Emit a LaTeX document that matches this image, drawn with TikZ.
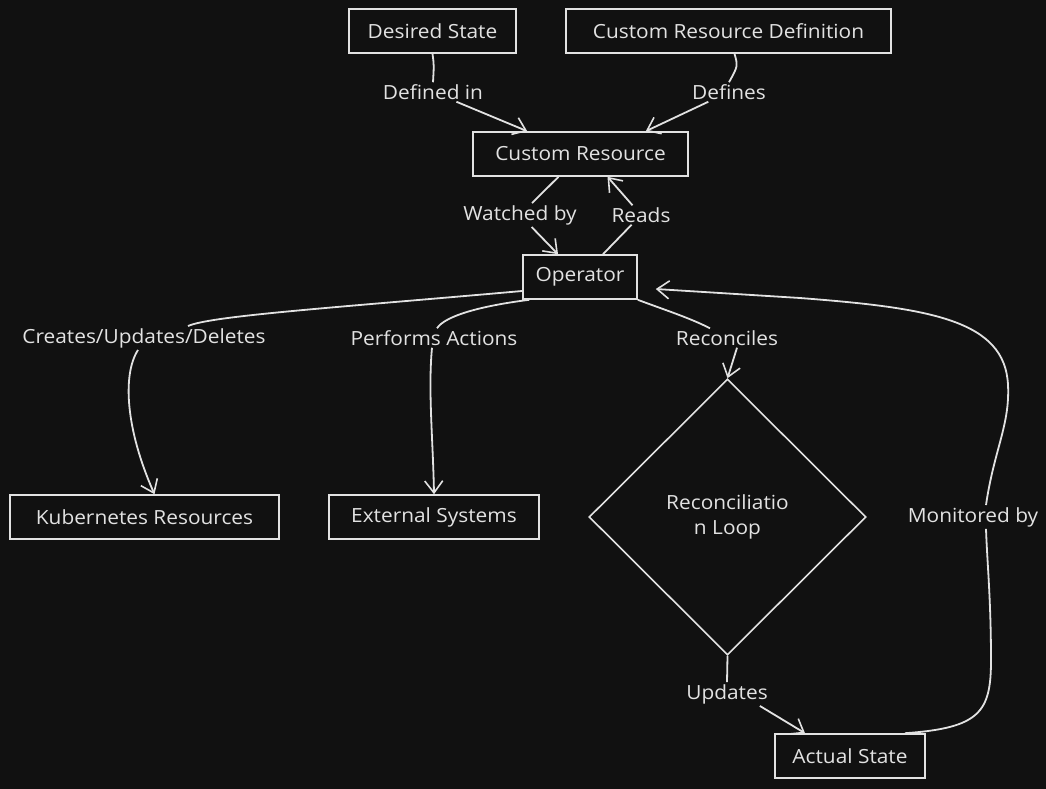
\documentclass[tikz,border=0pt]{standalone}
\usepackage{fontspec}
\setmainfont[FakeStretch=1.07]{Open Sans}
\usetikzlibrary{arrows.meta,shapes.geometric}
\definecolor{bgc}{HTML}{111111}
\definecolor{fgc}{HTML}{E2E2E2}
\begin{document}
\begin{tikzpicture}[x=1pt,y=-1pt,
  every node/.style={text=fgc,font=\fontsize{19.5}{25}\selectfont},
  box/.style={draw=fgc,line width=1.6pt,fill=bgc,minimum height=44pt,inner sep=0pt},
  lbl/.style={fill=bgc,inner sep=2pt},
  ln/.style={draw=fgc,line width=1.8pt},
  arr/.style={ln,-{Straight Barb[length=12pt,width=18pt,line width=1.6pt]}}]
\fill[bgc] (0,0) rectangle (1046,789);
\useasboundingbox (0,0) rectangle (1046,789);
% nodes
\node[box,minimum width=167pt] (ds) at (432.5,31) {Desired State};
\node[box,minimum width=325pt] (crd) at (728.5,31) {Custom Resource Definition};
\node[box,minimum width=215pt] (cr) at (580.5,154) {Custom Resource};
\node[box,minimum width=114pt] (op) at (580,277) {Operator};
\node[box,minimum width=269pt] (kr) at (144.5,517) {Kubernetes Resources};
\node[box,minimum width=210pt] (es) at (434,517) {External Systems};
\node[draw=fgc,line width=1.6pt,diamond,minimum width=277pt,minimum height=276pt,inner sep=0pt,align=center] (dm) at (727.5,517) {Reconciliatio\\n Loop};
\node[box,minimum width=150pt] (as) at (850,756) {Actual State};
% labels
\node[lbl] (l1) at (433,92) {Defined in};
\node[lbl] (l2) at (729,92) {Defines};
\node[lbl] (l3) at (520,215) {Watched by};
\node[lbl] (l4) at (641,215) {Reads};
\node[lbl] (l5) at (144,338) {Creates/Updates/Deletes};
\node[lbl] (l6) at (434,338) {Performs Actions};
\node[lbl] (l7) at (727,338) {Reconciles};
\node[lbl] (l8) at (727,694) {Updates};
\node[lbl] (l9) at (973,517) {Monitored by};
% connectors
\draw[ln] (ds.south) .. controls (434,65) .. (l1.north);
\draw[arr] (l1) -- ([xshift=55pt]cr.north west);
\draw[ln] ([xshift=6pt]crd.south) .. controls (738,66) .. (l2.north);
\draw[arr] (l2) -- ([xshift=-43pt]cr.north east);
\draw[ln] ([xshift=-22pt]cr.south) -- (l3);
\draw[arr] (l3) -- ([xshift=-22pt]op.north);
\draw[ln] ([xshift=23pt]op.north) -- (l4);
\draw[arr] (l4) -- ([xshift=27pt]cr.south);
\draw[ln] ([yshift=-14pt]op.west) .. controls (330,308) and (210,316) .. ([xshift=44pt]l5.north);
\draw[arr] ([xshift=-6pt]l5.south) .. controls (122,375) and (126,430) .. ([xshift=10pt]kr.north);
\draw[ln] ([xshift=7pt]op.south west) .. controls (480,306) and (445,316) .. ([xshift=3pt]l6.north);
\draw[arr] ([xshift=-2pt]l6.south) .. controls (428,390) and (433,440) .. (es.north);
\draw[ln] (op.south east) .. controls (665,310) and (690,318) .. ([xshift=-17pt]l7.north);
\draw[arr] ([xshift=10pt]l7.south) -- (dm.north);
\draw[ln] (dm.south) -- (l8.north);
\draw[arr] ([xshift=-10pt]l8.south east) -- ([xshift=-45pt]as.north);
\draw[ln] ([xshift=55pt]as.north) .. controls (980,728) and (991,712) .. (991,660) .. controls (991,600) and (987,560) .. ([xshift=13pt]l9.south);
\draw[arr] ([xshift=13pt]l9.north) .. controls (994,450) and (1010,425) .. (1008,385) .. controls (1005,320) and (930,308) .. (800,298) -- ([xshift=18pt,yshift=-12pt]op.east);
\end{tikzpicture}
\end{document}
